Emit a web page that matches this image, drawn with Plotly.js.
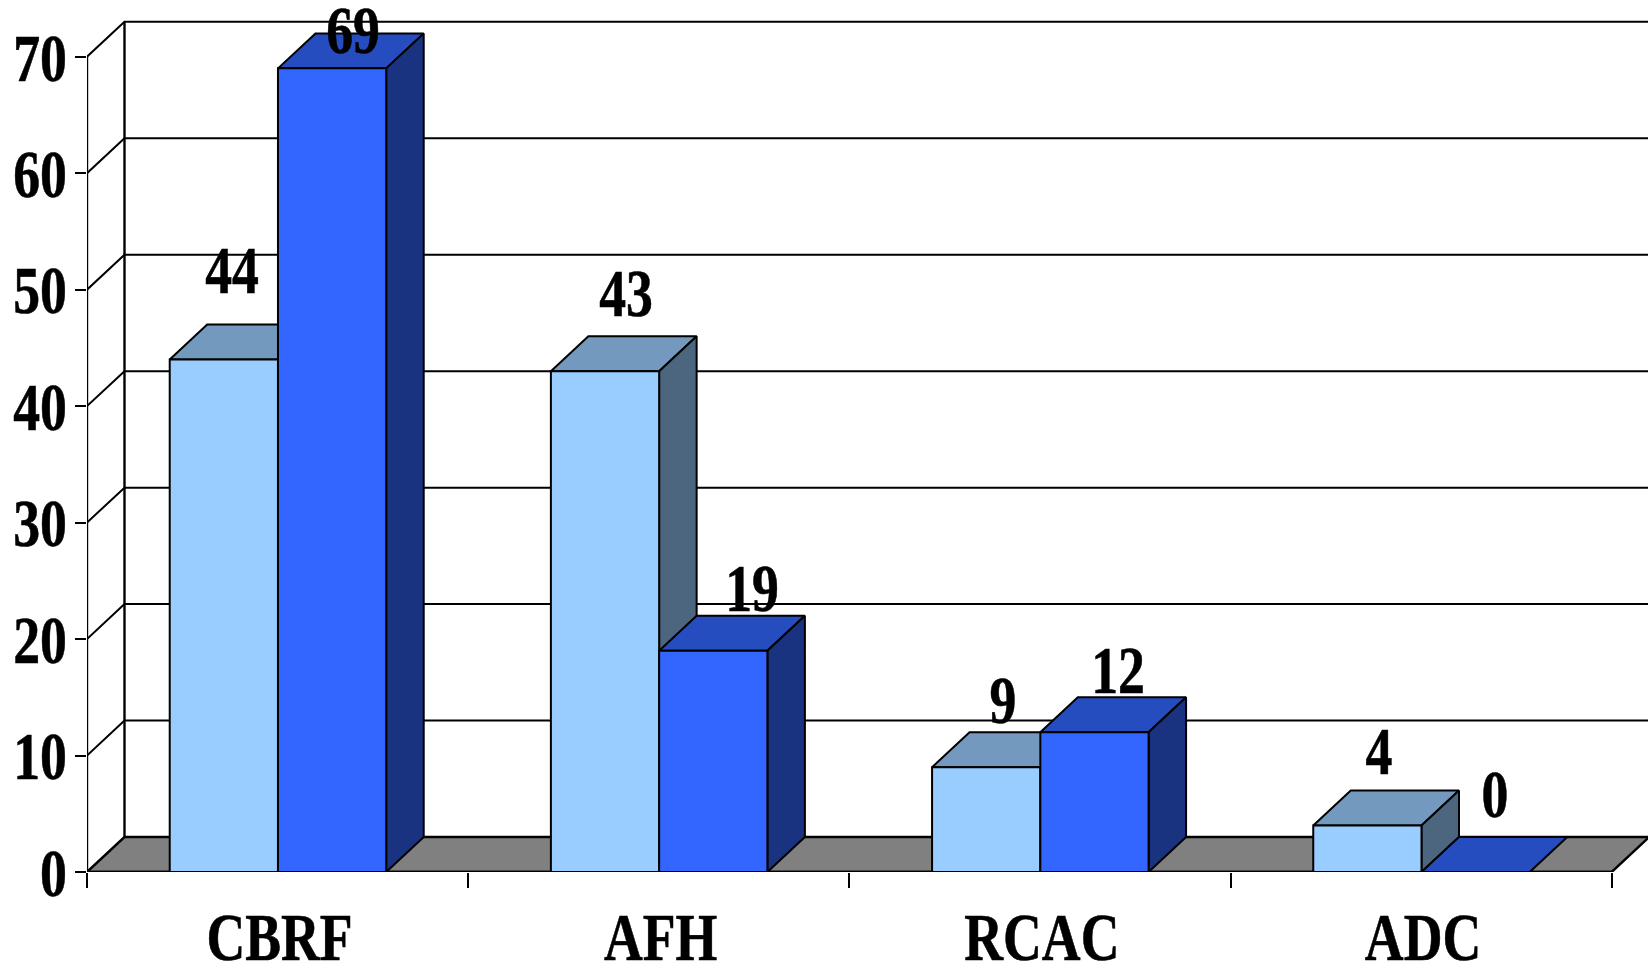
<!DOCTYPE html>
<html>
<head>
<meta charset="utf-8">
<script src="https://cdn.plot.ly/plotly-3.0.1.min.js"></script>
<style>html,body{margin:0;padding:0;background:#fff;overflow:hidden}</style>
</head>
<body>
<div id="chart" style="width:1648px;height:964px"></div>
<script>
// Data
const categories = ['CBRF', 'AFH', 'RCAC', 'ADC'];
const lightValues = [44, 43, 9, 4];
const darkValues = [69, 19, 12, 0];
const yTicks = [0, 10, 20, 30, 40, 50, 60, 70];

// Label nudges in pixels (reference places them irregularly)
const lightShiftX = [8, 21, 17, 12];
const lightShiftY = [90, 78, 67, 74];
const darkShiftX = [21, 39, 24, 19];
const darkShiftY = [38, 63, 62, 78];

// Geometry
const W = 1648, H = 964;
const plotLeft = 86.5, plotBottom = 92.3;
const slotPx = 381.3, unitPx = 11.643;
const depthX = 37.5 / slotPx, depthY = 3;
const centre = 0.501, barW = 0.284;
const labelNudge = 0.004;
const xMax = (W - plotLeft) / slotPx, yMax = (H - plotBottom) / unitPx;
const yTop = yTicks[yTicks.length - 1];
const nCat = categories.length;
const slots = categories.map((_, i) => i + centre);

const INK = '#000000';
const COL = {
  lightFront: '#99CCFF', lightTop: '#7399BF', lightSide: '#4D6680',
  darkFront: '#3366FF', darkTop: '#264DBF', darkSide: '#1A3380', floor: '#808080'
};

function polys(list) {
  const x = [], y = [];
  list.forEach(p => {
    p.forEach(q => { x.push(q[0]); y.push(q[1]); });
    x.push(p[0][0]); y.push(p[0][1]);
    x.push(null); y.push(null);
  });
  return { x, y };
}
function face(list, color, z) {
  const d = polys(list);
  return {
    type: 'scatter', mode: 'lines', x: d.x, y: d.y, fill: 'toself', fillcolor: color,
    line: { color: INK, width: 2, shape: 'linear' }, cliponaxis: false,
    hoverinfo: 'skip', showlegend: false, zorder: z
  };
}
function topFaces(values, x0) {
  return values.map((v, i) => {
    const a = slots[i] + x0, b = a + barW;
    return [[a, v], [b, v], [b + depthX, v + depthY], [a + depthX, v + depthY]];
  });
}
function sideFaces(values, x0) {
  return values.map((v, i) => {
    const b = slots[i] + x0 + barW;
    return [[b, 0], [b, v], [b + depthX, v + depthY], [b + depthX, depthY]];
  });
}
function front(values, x0, color, z) {
  return {
    type: 'bar', x: slots, y: values, width: barW, offset: x0,
    marker: { color: color, line: { color: INK, width: 2 } },
    cliponaxis: false, hoverinfo: 'skip', showlegend: false, zorder: z
  };
}

// Floor, walls and grid
const gridX = [], gridY = [];
yTicks.forEach(v => {
  if (v === 0) return;
  gridX.push(0, depthX, nCat + depthX + 0.01, null);
  gridY.push(v, v + depthY, v + depthY, null);
});
const floor = face([[[0, 0], [depthX, depthY], [nCat + depthX, depthY], [nCat, 0]]], COL.floor, 0);
floor.line.width = 2.4;
const grid = {
  type: 'scatter', mode: 'lines', x: gridX, y: gridY, cliponaxis: false,
  line: { color: INK, width: 2 }, hoverinfo: 'skip', showlegend: false, zorder: 1
};
const walls = {
  type: 'scatter', mode: 'lines',
  x: [depthX, depthX, null, 0, 0, nCat],
  y: [depthY, yTop + depthY, null, yTop, 0, 0],
  cliponaxis: false, line: { color: INK, width: 2.4 }, hoverinfo: 'skip', showlegend: false, zorder: 2
};

const traces = [
  floor, grid, walls,
  face(topFaces(lightValues, -barW), COL.lightTop, 3),
  face(sideFaces(lightValues, -barW), COL.lightSide, 4),
  front(lightValues, -barW, COL.lightFront, 5),
  face(topFaces(darkValues, 0), COL.darkTop, 6),
  face(sideFaces(darkValues, 0).filter((_, i) => darkValues[i] > 0), COL.darkSide, 7),
  front(darkValues, 0, COL.darkFront, 8)
];

const labelFont = { family: '"Liberation Serif", serif', size: 68, color: INK, weight: 700 };
function labels(values, x0, sx, sy) {
  return values.map((v, i) => ({
    x: slots[i] + x0 + barW / 2, y: v, text: String(v), showarrow: false,
    xanchor: 'center', yanchor: 'middle', xshift: sx[i], yshift: sy[i], font: labelFont
  }));
}

const layout = {
  width: W, height: H, autosize: false,
  margin: { l: plotLeft, r: 0, t: 0, b: plotBottom, pad: 0 },
  paper_bgcolor: '#ffffff', plot_bgcolor: '#ffffff',
  showlegend: false, hovermode: false, barmode: 'overlay',
  xaxis: {
    range: [0, xMax], tickmode: 'array', tickvals: slots.map(s => s + labelNudge), ticktext: categories,
    ticks: '', tickangle: 0, showgrid: false, zeroline: false, showline: false,
    tickfont: labelFont, ticklabelstandoff: 19,
    minor: { tickmode: 'array', tickvals: categories.map((_, i) => i).concat([nCat]),
             ticks: 'outside', ticklen: 15, tickwidth: 2, tickcolor: INK, showgrid: false }
  },
  yaxis: {
    range: [0, yMax], tickmode: 'array', tickvals: yTicks, ticktext: yTicks.map(String),
    ticks: 'outside', ticklen: 11.5, tickwidth: 2, tickcolor: INK, ticklabelstandoff: -6,
    showgrid: false, zeroline: false, showline: false, tickfont: labelFont
  },
  annotations: labels(lightValues, -barW, lightShiftX, lightShiftY)
    .concat(labels(darkValues, 0, darkShiftX, darkShiftY))
};

Plotly.newPlot('chart', traces, layout, { displayModeBar: false, staticPlot: true }).then(gd => {
  // The reference's lettering is horizontally condensed and heavy
  gd.querySelectorAll('svg text').forEach(t => {
    const len = t.getComputedTextLength();
    if (len > 0) {
      t.setAttribute('lengthAdjust', 'spacingAndGlyphs');
      t.setAttribute('textLength', (len * 0.79).toFixed(1));
      t.style.stroke = INK;
      t.style.strokeWidth = '0.6px';
    }
  });
});
</script>
</body>
</html>
